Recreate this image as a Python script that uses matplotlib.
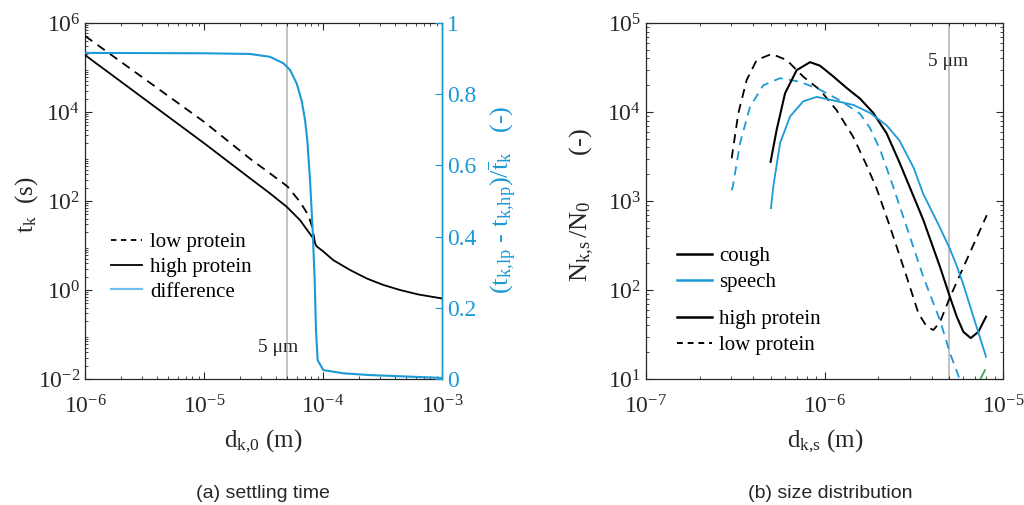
import numpy as np
import matplotlib
matplotlib.use("Agg")
import matplotlib.pyplot as plt
from matplotlib.lines import Line2D
from matplotlib.ticker import LogLocator, NullFormatter, FixedLocator

plt.rcParams['font.family'] = ['Liberation Serif', 'DejaVu Serif']
plt.rcParams['mathtext.fontset'] = 'custom'
plt.rcParams['mathtext.rm'] = 'Liberation Serif'
plt.rcParams['mathtext.it'] = 'Liberation Serif'
plt.rcParams['axes.unicode_minus'] = False

BLUE = '#1B9AD6'
DARK = '#262626'
GRAY = '#BDBDBD'
GREEN = '#3BAA4A'

# ---------- (a) settling time : log10 values ----------
hp_logd = [-6.0, -5.0, -4.613, -4.445, -4.305, -4.193, -4.123, -4.082, -4.067, -4.053, -4.0, -3.913, -3.773, -3.633, -3.5, -3.353, -3.2, -3.0]
hp_logt = [5.28, 3.30, 2.51, 2.17, 1.87, 1.57, 1.31, 1.16, 1.05, 0.98, 0.87, 0.67, 0.45, 0.26, 0.12, 0.0, -0.10, -0.19]
lp_logd = [-6.0, -5.0, -4.613, -4.445, -4.30, -4.193, -4.123, -4.095, -4.076, -4.067]
lp_logt = [5.71, 3.78, 2.95, 2.62, 2.33, 1.98, 1.68, 1.45, 1.20, 1.05]
diff_logd = [-6.0, -5.0, -4.613, -4.445, -4.333, -4.277, -4.221, -4.179, -4.151, -4.132, -4.109, -4.087, -4.070, -4.059, -4.045, -3.997, -3.829, -3.605, -3.3, -3.0]
diff_val = [0.916, 0.915, 0.913, 0.905, 0.887, 0.868, 0.830, 0.781, 0.728, 0.671, 0.559, 0.419, 0.278, 0.138, 0.053, 0.025, 0.016, 0.011, 0.007, 0.003]

# ---------- (b) size distribution : log10 values ----------
ch_logd = [-6.302, -6.268, -6.221, -6.156, -6.081, -6.025, -5.951, -5.876, -5.801, -5.727, -5.652, -5.577, -5.540, -5.447, -5.353, -5.297, -5.259, -5.222, -5.181, -5.138, -5.095]
ch_logn = [3.44, 3.80, 4.21, 4.47, 4.56, 4.52, 4.40, 4.27, 4.15, 3.99, 3.76, 3.42, 3.24, 2.79, 2.26, 1.92, 1.70, 1.53, 1.46, 1.53, 1.70]
sh_logd = [-6.30, -6.287, -6.249, -6.193, -6.119, -6.044, -5.951, -5.839, -5.745, -5.652, -5.58, -5.50, -5.447, -5.353, -5.297, -5.259, -5.222, -5.166, -5.095]
sh_logn = [2.92, 3.16, 3.65, 3.95, 4.12, 4.17, 4.13, 4.08, 3.99, 3.85, 3.68, 3.37, 3.08, 2.70, 2.46, 2.27, 2.06, 1.70, 1.25]
cl_logd = [-6.52, -6.483, -6.436, -6.380, -6.296, -6.212, -6.119, -6.025, -5.932, -5.839, -5.764, -5.708, -5.633, -5.540, -5.474, -5.428, -5.39, -5.353, -5.297, -5.203, -5.091]
cl_logn = [3.48, 3.985, 4.36, 4.584, 4.652, 4.584, 4.397, 4.247, 4.02, 3.72, 3.40, 3.14, 2.71, 2.15, 1.74, 1.59, 1.55, 1.64, 1.92, 2.34, 2.84]
sl_logd = [-6.52, -6.514, -6.473, -6.417, -6.343, -6.249, -6.137, -6.025, -5.913, -5.801, -5.745, -5.689, -5.615, -5.540, -5.447, -5.353, -5.297, -5.241]
sl_logn = [3.12, 3.16, 3.65, 4.06, 4.30, 4.38, 4.34, 4.25, 4.13, 3.98, 3.82, 3.58, 3.16, 2.71, 2.15, 1.66, 1.29, 0.99]
gr_logd = [-5.129, -5.101]
gr_logn = [0.99, 1.10]

d_mark_a = 5e-5
d_mark_b = 5e-6

def p10(a):
    return 10.0 ** np.asarray(a)

fig = plt.figure(figsize=(10.24, 5.05), dpi=100)
W, H = 1024, 505
axa = fig.add_axes([85 / W, 1 - 379 / H, 357 / W, 356 / H])
axb = fig.add_axes([646 / W, 1 - 379 / H, 357 / W, 356 / H])

TICK_FS = 17
LAB_FS = 18
LEG_FS = 15
LW = 1.3
DASH = (0, (5, 3.5))

def style_log(ax, xlim, ylim):
    ax.set_xscale('log')
    ax.set_yscale('log')
    ax.set_xlim(*xlim)
    ax.set_ylim(*ylim)
    ax.tick_params(which='both', direction='in', top=True, colors=DARK, labelsize=TICK_FS)
    ax.tick_params(which='major', length=5, width=0.8)
    ax.tick_params(which='minor', length=2.5, width=0.6)
    ax.tick_params(axis='x', which='major', pad=12)
    for s in ax.spines.values():
        s.set_color(DARK)
        s.set_linewidth(0.9)

# ---- panel (a)
style_log(axa, (1e-6, 1e-3), (1e-2, 1e6))
axa.yaxis.set_major_locator(FixedLocator([1e-2, 1, 1e2, 1e4, 1e6]))
axa.yaxis.set_minor_locator(LogLocator(base=10, subs=np.arange(2, 10), numticks=20))
axa.yaxis.set_minor_formatter(NullFormatter())
axa.tick_params(axis='y', right=False, which='both')
axa.axvline(d_mark_a, color=GRAY, lw=1.3, zorder=1)
axa.plot(p10(lp_logd), p10(lp_logt), color='black', lw=LW, ls=DASH, zorder=3)
axa.plot(p10(hp_logd), p10(hp_logt), color='black', lw=LW, zorder=3)
axa.text(4.2e-5, 0.05, '5 μm', fontsize=14, ha='center', va='center', color=DARK)

axr = axa.twinx()
axr.set_ylim(0, 1)
axr.plot(p10(diff_logd), diff_val, color=BLUE, lw=1.5, zorder=2)
axr.set_yticks([0, 0.2, 0.4, 0.6, 0.8, 1])
axr.set_yticklabels(['0', '0.2', '0.4', '0.6', '0.8', '1'])
axr.tick_params(axis='y', direction='in', colors=BLUE, labelsize=TICK_FS, length=5, width=0.8)
axr.spines['right'].set_color(BLUE)
axr.spines['right'].set_linewidth(1.0)
for k in ['left', 'top', 'bottom']:
    axr.spines[k].set_visible(False)

# axis labels as figure texts
fig.text(27 / W, 1 - 205 / H, r'$\mathrm{t_k}$  (s)', rotation=90, ha='center', va='center',
         fontsize=LAB_FS, color=DARK)
fig.text(263 / W, 1 - 441 / H, r'$\mathrm{d_{k{,}0}}$ (m)', ha='center', va='center',
         fontsize=LAB_FS, color=DARK)
fig.text(503 / W, 1 - 200 / H, r'$\mathrm{(t_{k{,}lp}\ \text{-}\ t_{k{,}hp})/\bar{t}_k}$   (-)', rotation=90,
         ha='center', va='center', fontsize=LAB_FS + 1, color=BLUE)
fig.text(582 / W, 1 - 205 / H, r'$\mathrm{N_{k{,}s}\,/N_0}$       (-)', rotation=90, ha='center', va='center',
         fontsize=LAB_FS + 1, color=DARK)
fig.text(825 / W, 1 - 441 / H, r'$\mathrm{d_{k{,}s}}$ (m)', ha='center', va='center',
         fontsize=LAB_FS, color=DARK)

handles_a = [Line2D([], [], color='black', lw=LW, ls=(0, (3, 2.5))),
             Line2D([], [], color='black', lw=LW),
             Line2D([], [], color='#6EC3EC', lw=1.6)]
fig.legend(handles_a, ['low protein', 'high protein', 'difference'], loc='upper left',
           bbox_to_anchor=(96 / W, 1 - 218 / H), frameon=False, fontsize=LEG_FS,
           handlelength=1.5, handletextpad=0.4, labelspacing=0.25, borderpad=0.2)

# ---- panel (b)
style_log(axb, (1e-7, 1e-5), (1e1, 1e5))
axb.tick_params(which='both', right=True)
axb.xaxis.set_major_locator(FixedLocator([1e-7, 1e-6, 1e-5]))
axb.axvline(d_mark_b, color=GRAY, lw=1.3, zorder=1)
axb.plot(p10(cl_logd), p10(cl_logn), color='black', lw=LW, ls=DASH, zorder=3)
axb.plot(p10(sl_logd), p10(sl_logn), color=BLUE, lw=LW, ls=DASH, zorder=3)
axb.plot(p10(ch_logd), p10(ch_logn), color='black', lw=1.5, zorder=3)
axb.plot(p10(sh_logd), p10(sh_logn), color=BLUE, lw=LW, zorder=3)
axb.plot(p10(gr_logd), p10(gr_logn), color=GREEN, lw=LW, zorder=3)
axb.text(4.95e-6, 3.7e4, '5 μm', fontsize=14, ha='center', va='center', color=DARK)

h1 = [Line2D([], [], color='black', lw=1.8), Line2D([], [], color=BLUE, lw=1.8)]
fig.legend(h1, ['cough', 'speech'], loc='upper left', bbox_to_anchor=(662 / W, 1 - 232 / H),
           frameon=False, fontsize=LEG_FS, handlelength=1.7, handletextpad=0.35,
           labelspacing=0.3, borderpad=0.2)
h2 = [Line2D([], [], color='black', lw=1.8), Line2D([], [], color='black', lw=1.4, ls=(0, (3, 2.5)))]
fig.legend(h2, ['high protein', 'low protein'], loc='upper left', bbox_to_anchor=(662 / W, 1 - 295 / H),
           frameon=False, fontsize=LEG_FS, handlelength=1.7, handletextpad=0.35,
           labelspacing=0.3, borderpad=0.2)

# captions
cap_font = ['Liberation Sans Narrow', 'Liberation Sans', 'DejaVu Sans']
fig.text(263 / W, 1 - 494 / H, '(a) settling time', ha='center', va='center', fontsize=14,
         family=cap_font, color=DARK)
fig.text(830 / W, 1 - 494 / H, '(b) size distribution', ha='center', va='center', fontsize=14,
         family=cap_font, color=DARK)

fig.savefig('out.png', dpi=100)
